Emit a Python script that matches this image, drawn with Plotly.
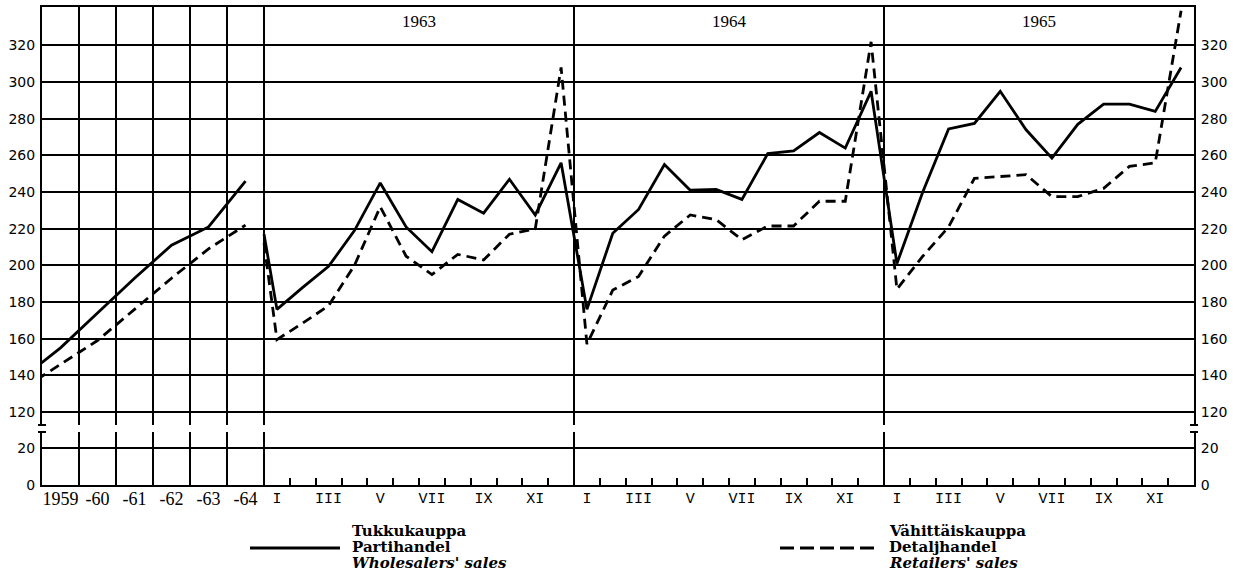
import plotly.graph_objects as go

# ---------------- data (index values) ----------------
years = ["1959", "-60", "-61", "-62", "-63", "-64"]
wholesale_annual = [155, 174, 193, 211, 221, 246]
retail_annual = [146, 159, 176, 193, 209, 222]
# lead-in values (1958) - the line enters from the left edge
wholesale_1958 = 139
retail_1958 = 133

months = ["I", "II", "III", "IV", "V", "VI", "VII", "VIII", "IX", "X", "XI", "XII"]
month_labels = ["I", "", "III", "", "V", "", "VII", "", "IX", "", "XI", ""]
month_years = ["1963", "1964", "1965"]

# value at the start of the monthly panel (Dec 1962)
wholesale_dec1962 = 217
retail_dec1962 = 212

wholesale_1963 = [176, 188, 199.5, 219, 245, 221, 207.5, 236, 228.5, 247, 227.5, 256]
wholesale_1964 = [176, 217.5, 230.5, 255, 241, 241.5, 236, 261, 262.5, 272.5, 264, 295]
wholesale_1965 = [201, 240, 274.5, 277.5, 295, 274, 258.5, 277, 288, 288, 284, 308]

retail_1963 = [159.5, 168.5, 178, 200, 232, 205, 195, 206, 203, 217, 220, 308]
retail_1964 = [157, 186.5, 194, 216, 227.5, 225, 214, 221.5, 221.5, 235, 235, 322]
retail_1965 = [187, 205, 221, 247.5, 248.5, 249.5, 237.5, 237.5, 242, 254, 256, 339]

upper_ticks = [120, 140, 160, 180, 200, 220, 240, 260, 280, 300, 320]
lower_ticks = [0, 20]

legend_wholesale = ["Tukkukauppa", "Partihandel", "<i>Wholesalers' sales</i>"]
legend_retail = ["Vähittäiskauppa", "Detaljhandel", "<i>Retailers' sales</i>"]

# ---------------- geometry of the scale ----------------
W, H = 1245, 576
ML, MR, MT, MB = 42, 51, 7, 91
plot_w = W - ML - MR
plot_h = H - MT - MB
CELL = 37 / 25.83               # width of one annual cell in month units
X_MIN = -6 * CELL
X_MAX = 36
upper_dom = [60 / plot_h, 1]
lower_dom = [0, 53 / plot_h]
UPPER_RANGE = [112.9, 341]
LOWER_RANGE = [0, 28.6]

x_annual = [X_MIN + (i + 0.5) * CELL for i in range(len(years))]
x_lead = X_MIN - 0.5 * CELL
x_month = [12 * k + m + 0.5 for k in range(3) for m in range(12)]
annual_bounds = [X_MIN + i * CELL for i in range(1, 6)]
year_bounds = [0, 12, 24]
month_bounds = [b for b in range(1, 36) if b % 12 != 0]

wh_y = [wholesale_1958] + wholesale_annual + [None, wholesale_dec1962] + wholesale_1963 + wholesale_1964 + wholesale_1965
rt_y = [retail_1958] + retail_annual + [None, retail_dec1962] + retail_1963 + retail_1964 + retail_1965
xs = [x_lead] + x_annual + [None, 0] + x_month

fig = go.Figure()
fig.add_trace(go.Scatter(x=xs, y=wh_y, mode="lines", connectgaps=False,
                         line=dict(color="black", width=2.8), xaxis="x", yaxis="y",
                         showlegend=False, hoverinfo="skip"))
fig.add_trace(go.Scatter(x=xs, y=rt_y, mode="lines", connectgaps=False,
                         line=dict(color="black", width=2.8, dash="10px,6px"), xaxis="x", yaxis="y",
                         showlegend=False, hoverinfo="skip"))

# invisible helper traces so every auxiliary axis is drawn
for xa, ya, yv in [("x2", "y2", lower_ticks[0]), ("x3", "y2", lower_ticks[0]), ("x4", "y2", lower_ticks[0]),
                   ("x", "y3", upper_ticks[0]), ("x2", "y4", lower_ticks[0])]:
    fig.add_trace(go.Scatter(x=[X_MAX], y=[yv], mode="markers", marker=dict(opacity=0),
                             xaxis=xa, yaxis=ya, showlegend=False, hoverinfo="skip"))

grid_x = annual_bounds + year_bounds
common_x = dict(range=[X_MIN, X_MAX], tickmode="array", tickvals=grid_x, showgrid=True,
                gridcolor="black", gridwidth=2, showticklabels=False, ticks="", zeroline=False,
                showline=True, linecolor="black", linewidth=2, fixedrange=True)

ytick_font = dict(family="DejaVu Sans", size=14, color="black")
fig.update_layout(
    width=W, height=H, margin=dict(l=ML, r=MR, t=MT, b=MB),
    paper_bgcolor="white", plot_bgcolor="white", showlegend=False,
    xaxis=dict(**common_x, domain=[0, 1], anchor="y", side="top"),
    xaxis2=dict(**common_x, domain=[0, 1], anchor="y2", side="bottom", matches="x",
                minor=dict(tickmode="array", tickvals=month_bounds, ticks="inside", ticklen=7,
                           tickwidth=2, tickcolor="black", showgrid=False)),
    xaxis3=dict(range=[X_MIN, X_MAX], overlaying="x2", anchor="y2", side="bottom",
                tickmode="array", tickvals=x_annual, ticktext=years, showgrid=False,
                showline=False, ticks="", zeroline=False, ticklabelstandoff=1,
                tickfont=dict(family="Liberation Serif", size=18, color="black")),
    xaxis4=dict(range=[X_MIN, X_MAX], overlaying="x2", anchor="y2", side="bottom",
                tickmode="array", tickvals=x_month, ticktext=month_labels * 3, showgrid=False,
                showline=False, ticks="", zeroline=False, ticklabelstandoff=2,
                tickfont=dict(family="Liberation Mono", size=15, color="black")),
    yaxis=dict(domain=upper_dom, anchor="x", range=UPPER_RANGE, tickmode="array", tickvals=upper_ticks,
               showgrid=True, gridcolor="black", gridwidth=1.5, showline=True, linecolor="black",
               linewidth=2, ticks="", zeroline=False, tickfont=ytick_font, ticklabelstandoff=2),
    yaxis2=dict(domain=lower_dom, anchor="x2", range=LOWER_RANGE, tickmode="array", tickvals=lower_ticks,
                showgrid=True, gridcolor="black", gridwidth=1.5, showline=True, linecolor="black",
                linewidth=2, ticks="", zeroline=False, tickfont=ytick_font, ticklabelstandoff=2),
    yaxis3=dict(overlaying="y", anchor="x", side="right", range=UPPER_RANGE, tickmode="array",
                tickvals=upper_ticks, showgrid=False, showline=True, linecolor="black", linewidth=2,
                ticks="", zeroline=False, tickfont=ytick_font, ticklabelstandoff=2),
    yaxis4=dict(overlaying="y2", anchor="x2", side="right", range=LOWER_RANGE, tickmode="array",
                tickvals=lower_ticks, showgrid=False, showline=True, linecolor="black", linewidth=2,
                ticks="", zeroline=False, tickfont=ytick_font, ticklabelstandoff=2),
)

# year titles inside the monthly panels
for k, yr in enumerate(month_years):
    fig.add_annotation(x=12 * k + 6, y=1 - 14 / plot_h, xref="x", yref="paper", text=yr,
                       showarrow=False, font=dict(family="Liberation Serif", size=17, color="black"),
                       yanchor="middle")

# break marks on the vertical axes
def px_x(p):
    return (p - ML) / plot_w

def px_y(p):
    return (H - MB - p) / plot_h

for xp in (ML, W - MR):
    for yp in (425, 432):
        fig.add_shape(type="line", xref="paper", yref="paper",
                      x0=px_x(xp - 4), x1=px_x(xp + 4), y0=px_y(yp), y1=px_y(yp),
                      line=dict(color="black", width=2))

# legend
leg_font = dict(family="DejaVu Serif", size=15, color="black")
fig.add_shape(type="line", xref="paper", yref="paper", x0=px_x(250), x1=px_x(340),
              y0=px_y(548), y1=px_y(548), line=dict(color="black", width=2.8))
fig.add_shape(type="line", xref="paper", yref="paper", x0=px_x(780), x1=px_x(878),
              y0=px_y(548), y1=px_y(548), line=dict(color="black", width=2.8, dash="14px,6px"))
for i, yp in enumerate((531, 547, 563)):
    fig.add_annotation(x=px_x(350), y=px_y(yp), xref="paper", yref="paper", xanchor="left",
                       yanchor="middle", showarrow=False, text="<b>" + legend_wholesale[i] + "</b>",
                       font=leg_font)
    fig.add_annotation(x=px_x(887), y=px_y(yp), xref="paper", yref="paper", xanchor="left",
                       yanchor="middle", showarrow=False, text="<b>" + legend_retail[i] + "</b>",
                       font=leg_font)

fig.write_html("out.html", config={"displayModeBar": False},
               post_script="document.body.style.margin='0px';")
